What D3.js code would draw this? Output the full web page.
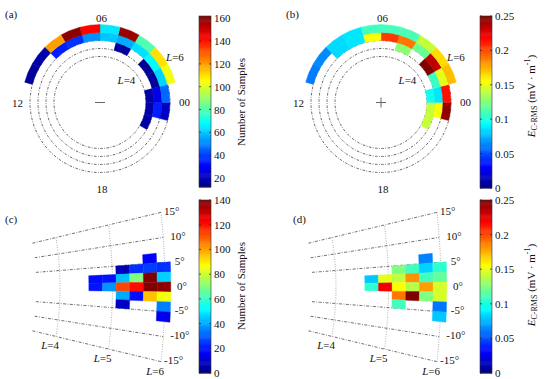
<!DOCTYPE html>
<html><head><meta charset="utf-8">
<script src="https://cdn.jsdelivr.net/npm/d3@7"></script>
<style>
body{margin:0;background:#fff}
svg text{font-family:"Liberation Serif","Times New Roman",serif;font-size:11px;fill:#111}
</style>
</head><body>
<svg id="chart" width="552" height="379"></svg>
<script>
// ================= DATA =================
// Polar panels (a),(b): 1-hour MLT bins (start hour) and L bands
const mltBins = [22, 23, 0, 1, 2, 3, 4, 5, 6, 7, 8, 9, 10];
const lBands = [[4.0, 4.5], [4.5, 5.0], [5.0, 5.5], [5.5, 6.0]];
const mltLabels = ["06", "12", "18", "00"];
// (a) number of samples per L band, aligned with mltBins
const samplesL40 = [17, 18, 18, null, null, null, null, null, null, null, null, null, null];
const samplesL45 = [null, 35, 27, 16, 15, null, 16, null, null, null, null, null, null];
const samplesL50 = [null, 22, 46, 62, 68, 64, 56, 60, 52, 38, 35, null, null];
const samplesL55 = [null, null, null, 104, 110, 80, 158, 65, 143, 160, 120, 18, 16];
// (b) E C-RMS (mV/m) per L band, aligned with mltBins
const eL40 = [0.142, 0.142, 0.098, null, null, null, null, null, null, null, null, null, null];
const eL45 = [null, 0.155, 0.088, 0.108, 0.25, null, 0.128, null, null, null, null, null, null];
const eL50 = [null, 0.245, 0.215, 0.15, 0.235, 0.12, 0.19, 0.205, 0.155, 0.088, 0.085, null, null];
const eL55 = [null, null, null, 0.172, 0.165, 0.142, 0.112, 0.11, 0.11, 0.088, 0.085, 0.065, 0.062];

// Meridional panels (c),(d): latitude bins (top to bottom) and L bins
const latBinEdges = [7, 5, 3, 1, -1, -3, -5, -7];
const cellLEdges = [4.55, 4.81, 5.07, 5.33, 5.59, 5.85, 6.11];
const latLines = [15, 10, 5, -5, -10, -15];
const latTicks = [15, 10, 5, 0, -5, -10, -15];
const lLines = [4, 5, 6];
// (c) number of samples, rows = latitude bins top->bottom
const samplesLat6  = [null, null, null, null, 17, null];
const samplesLat4  = [null, null, 8, 24, 26, 24];
const samplesLat2  = [19, 20, 44, 70, 140, 46];
const samplesLat0  = [20, 38, 113, 121, 140, 138];
const samplesLatM2 = [null, null, 41, 19, 96, 86];
const samplesLatM4 = [null, null, 9, null, null, 35];
const samplesLatM6 = [null, null, null, null, null, 15];
// (d) E C-RMS (mV/m)
const eLat6  = [null, null, null, null, 0.063, null];
const eLat4  = [null, null, 0.125, 0.11, 0.083, 0.105];
const eLat2  = [0.08, 0.15, 0.141, 0.183, 0.11, 0.118];
const eLat0  = [0.105, 0.222, 0.156, 0.138, 0.18, 0.146];
const eLatM2 = [null, null, 0.19, 0.25, 0.125, 0.146];
const eLatM4 = [null, null, 0.11, null, null, 0.06];
const eLatM6 = [null, null, null, null, null, 0.08];

// Colorbar ticks
const ticksA = [20, 40, 60, 80, 100, 120, 140, 160];
const ticksC = [0, 20, 40, 60, 80, 100, 120, 140];
const ticksE = [0, 0.05, 0.1, 0.15, 0.2, 0.25];

// ================= DRAWING =================
const svg = d3.select("#chart");
svg.append("rect").attr("width", 552).attr("height", 379).attr("fill", "#fff");

function jet(t) {
  t = Math.max(0, Math.min(1, t));
  const c = v => Math.round(255 * Math.max(0, Math.min(1, v)));
  return `rgb(${c(Math.min(4*t-1.5, -4*t+4.5))},${c(Math.min(4*t-0.5, -4*t+3.5))},${c(Math.min(4*t+0.5, -4*t+2.5))})`;
}

const colorA = d3.scaleSequential(jet).domain([12, 162]);
const colorB = d3.scaleSequential(jet).domain([0, 0.25]);
const colorC = d3.scaleSequential(jet).domain([0, 140]);
const colorD = d3.scaleSequential(jet).domain([0, 0.25]);

// ---------- polar panels ----------
const rScale = d3.scaleLinear().domain([4, 6]).range([46, 78]);
const mltAngle = d3.scaleLinear().domain([0, 24]).range([Math.PI/2, Math.PI/2 - 2*Math.PI]);
const arc = d3.arc();

function drawPolar(cx, cy, bands, color, symbol, tag) {
  const g = svg.append("g").attr("transform", `translate(${cx},${cy})`);
  [4, 4.5, 5, 5.5].forEach(L => {
    g.append("circle").attr("r", rScale(L)).attr("fill", "none")
      .attr("stroke", "#222").attr("stroke-width", 0.7)
      .attr("stroke-dasharray", "2.5,1.5,0.8,1.5");
  });
  bands.forEach((arr, bi) => {
    arr.forEach((v, i) => {
      if (v == null) return;
      const m = mltBins[i];
      const d = arc({innerRadius: rScale(lBands[bi][0]), outerRadius: rScale(lBands[bi][1]),
        startAngle: mltAngle(m + 1), endAngle: mltAngle(m)});
      g.append("path").attr("d", d).attr("fill", color(v))
        .attr("stroke", color(v)).attr("stroke-width", 0.4);
    });
  });
  // center symbol
  g.append("line").attr("x1", -5).attr("x2", 5).attr("y1", 0).attr("y2", 0)
    .attr("stroke", "#666").attr("stroke-width", 1);
  if (symbol === "+") g.append("line").attr("x1", 0).attr("x2", 0).attr("y1", -5).attr("y2", 5)
    .attr("stroke", "#666").attr("stroke-width", 1);
  // MLT labels
  const pos = {"06": [1.5, -80.5], "12": [-82.5, 4.5], "18": [2, 90.5], "00": [84.5, 3.5]};
  mltLabels.forEach(t => g.append("text").attr("x", pos[t][0]).attr("y", pos[t][1])
    .attr("text-anchor", "middle").text(t));
  const l6 = g.append("text").attr("x", 66).attr("y", -41.5);
  l6.append("tspan").attr("font-style", "italic").text("L");
  l6.append("tspan").text("=6");
  const l4 = g.append("text").attr("x", 17.5).attr("y", -18.5);
  l4.append("tspan").attr("font-style", "italic").text("L");
  l4.append("tspan").text("=4");
  svg.append("text").attr("x", cx - 95).attr("y", 18).text(tag);
}

drawPolar(100, 102.5, [samplesL40, samplesL45, samplesL50, samplesL55], colorA, "-", "(a)");
drawPolar(381, 102.5, [eL40, eL45, eL50, eL55], colorB, "+", "(b)");

// ---------- meridional panels ----------
const lScale = d3.scaleLinear().domain([4, 6]).range([60, 165]);
function proj(L, lat, dx) {
  const ox = -150 + dx, oy = 287;
  const x = lScale(L) + dx - 4 * (lat / 15) ** 2;
  const th = 0.9 * lat * Math.PI / 180;
  return [x, oy - (x - ox) * Math.tan(th)];
}
const line = d3.line();

function drawMeridional(dx, rows, color, tag) {
  const g = svg.append("g");
  latLines.forEach(lat => {
    g.append("path").attr("d", line([proj(3.55, lat, dx), proj(6, lat, dx)]))
      .attr("fill", "none").attr("stroke", "#333").attr("stroke-width", 0.7)
      .attr("stroke-dasharray", "3,1.5,0.8,1.5");
  });
  lLines.forEach(L => {
    g.append("path").attr("d", line(d3.range(-15, 15.01, 1).map(lat => proj(L, lat, dx))))
      .attr("fill", "none").attr("stroke", "#777").attr("stroke-width", 0.7)
      .attr("stroke-dasharray", "0.8,1.6");
  });
  rows.forEach((row, ri) => {
    const la1 = latBinEdges[ri], la0 = latBinEdges[ri + 1];
    row.forEach((v, ci) => {
      if (v == null) return;
      const L0 = cellLEdges[ci], L1 = cellLEdges[ci + 1];
      const pts = [proj(L0, la1, dx), proj(L1, la1, dx), proj(L1, la0, dx), proj(L0, la0, dx)];
      g.append("path").attr("d", line(pts) + "Z").attr("fill", color(v))
        .attr("stroke", color(v)).attr("stroke-width", 0.4);
    });
  });
  latTicks.forEach(lat => {
    const p = proj(6, lat, dx);
    const x = p[0] + 3 + 9 * (1 - Math.pow(Math.abs(lat) / 15, 1.5));
    g.append("text").attr("x", x).attr("y", p[1]).attr("dominant-baseline", "middle")
      .text(lat + "°");
  });
  lLines.forEach(L => {
    const p = proj(L, -15, dx);
    const t = g.append("text").attr("x", p[0] + 3).attr("y", p[1] + 13).attr("text-anchor", "end");
    t.append("tspan").attr("font-style", "italic").text("L");
    t.append("tspan").text("=" + L);
  });
  svg.append("text").attr("x", dx + 5 + (dx ? 12 : 0)).attr("y", 223).text(tag);
}

drawMeridional(0, [samplesLat6, samplesLat4, samplesLat2, samplesLat0, samplesLatM2, samplesLatM4, samplesLatM6], colorC, "(c)");
drawMeridional(276, [eLat6, eLat4, eLat2, eLat0, eLatM2, eLatM4, eLatM6], colorD, "(d)");

// ---------- colorbars ----------
function drawColorbar(x, y0, y1, color, ticks, labelFn, lx, ly) {
  const w = 12;
  const sc = d3.scaleLinear().domain(color.domain()).range([y1, y0]);
  const g = svg.append("g");
  const n = 160;
  const dom = color.domain();
  d3.range(n).forEach(i => {
    const v0 = dom[0] + (dom[1] - dom[0]) * i / n;
    const v1 = dom[0] + (dom[1] - dom[0]) * (i + 1) / n;
    g.append("rect").attr("x", x).attr("width", w)
      .attr("y", sc(v1)).attr("height", sc(v0) - sc(v1) + 0.5)
      .attr("fill", color((v0 + v1) / 2));
  });
  g.append("rect").attr("x", x).attr("y", y0).attr("width", w).attr("height", y1 - y0)
    .attr("fill", "none").attr("stroke", "#333").attr("stroke-width", 0.6);
  const ax = d3.axisRight(sc).tickValues(ticks).tickSize(0).tickPadding(3).tickFormat(d => String(d));
  const ag = g.append("g").attr("transform", `translate(${x + w},0)`).call(ax);
  ag.select(".domain").remove();
  ag.selectAll("text").attr("font-family", "Liberation Serif").attr("font-size", 11).attr("fill", "#111");
  ticks.forEach(t => {
    g.append("line").attr("x1", x).attr("x2", x + 2).attr("y1", sc(t)).attr("y2", sc(t)).attr("stroke", "#222").attr("stroke-width", 0.7);
    g.append("line").attr("x1", x + w - 2).attr("x2", x + w).attr("y1", sc(t)).attr("y2", sc(t)).attr("stroke", "#222").attr("stroke-width", 0.7);
  });
  const lt = svg.append("text").attr("transform", `translate(${lx},${ly}) rotate(-90)`)
    .attr("text-anchor", "middle").attr("dominant-baseline", "middle");
  labelFn(lt);
}
const samplesLabel = t => t.text("Number of Samples");
const eLabel = t => {
  t.append("tspan").attr("font-style", "italic").text("E");
  t.append("tspan").attr("font-size", 8).attr("dy", 3).text("C-RMS");
  t.append("tspan").attr("dy", -3).text(" (mV · m");
  t.append("tspan").attr("font-size", 8).attr("dy", -4).text("-1");
  t.append("tspan").attr("dy", 4).text(")");
};
drawColorbar(199, 16, 187, colorA, ticksA, samplesLabel, 242, 102);
drawColorbar(480, 16, 188, colorB, ticksE, eLabel, 532, 96);
drawColorbar(199, 200, 373, colorC, ticksC, samplesLabel, 242, 286);
drawColorbar(480, 200, 373, colorD, ticksE, eLabel, 532, 285);
</script>
</body></html>
